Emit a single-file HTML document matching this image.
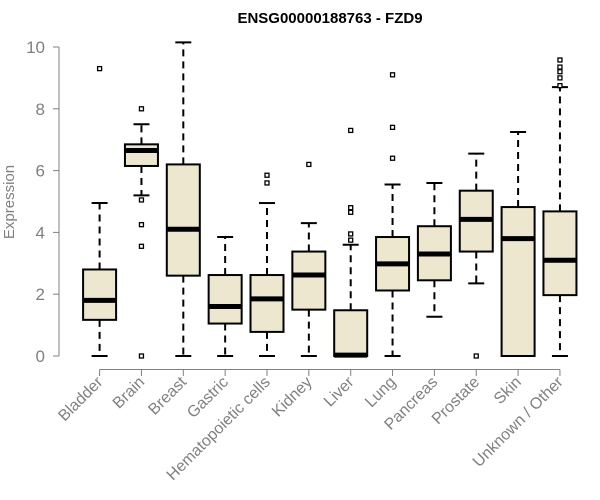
<!DOCTYPE html>
<html><head><meta charset="utf-8"><style>body{margin:0;background:#fff}svg{display:block;font-family:"Liberation Sans",Arial,sans-serif}</style></head>
<body>
<svg id="c" width="600" height="500">
<text x="330" y="23" text-anchor="middle" font-weight="bold" font-size="15">ENSG00000188763 - FZD9</text>
<text transform="translate(14,202) rotate(-90)" text-anchor="middle" font-size="15" fill="#808080">Expression</text>
</svg>
<script>
const categories=["Bladder","Brain","Breast","Gastric","Hematopoietic cells","Kidney","Liver","Lung","Pancreas","Prostate","Skin","Unknown / Other"];
const whiskLow=[0,5.2,0,0,0,0,0,0,1.27,2.35,0,0];
const q1=[1.17,6.15,2.6,1.05,0.78,1.5,0,2.12,2.45,3.38,0,1.97];
const medians=[1.8,6.65,4.1,1.6,1.85,2.62,0.03,2.98,3.3,4.42,3.8,3.1];
const q3=[2.8,6.85,6.2,2.62,2.62,3.38,1.48,3.85,4.2,5.35,4.82,4.68];
const whiskHigh=[4.95,7.5,10.15,3.85,4.95,4.3,3.6,5.55,5.6,6.55,7.25,8.7];
const outliers=[[9.3],[8.0,5.05,4.25,3.55,0],[],[],[5.6,5.85],[6.2],[3.75,3.95,4.65,4.8,7.3],[6.4,7.4,9.1],[],[0],[],[8.75,9.0,9.2,9.35,9.58]];
const yTicks=[0,2,4,6,8,10];
const NS="http://www.w3.org/2000/svg",svg=document.getElementById('c');
const y=v=>356-30.9*v, x=i=>99.6+41.85*i;
function mk(t,a,p){const e=document.createElementNS(NS,t);for(const k in a)e.setAttribute(k,a[k]);(p||svg).appendChild(e);return e;}
let e=mk('line',{x1:59,x2:59,y1:y(0),y2:y(10),stroke:'#808080'});


yTicks.forEach(t=>{mk('line',{x1:53,x2:59,y1:y(t),y2:y(t),stroke:'#808080'});
const l=mk('text',{x:45,y:y(t)+6,'text-anchor':'end','font-size':17,fill:'#808080'});l.textContent=t;

});
e=mk('line',{x1:x(0),x2:x(11),y1:369.5,y2:369.5,stroke:'#808080'});


const hw=16.5,cw=8;
categories.forEach((c,i)=>{const cx=x(i);
mk('line',{x1:cx,x2:cx,y1:369.5,y2:376,stroke:'#808080'});
const l=mk('text',{transform:`translate(${cx+4},383) rotate(-45)`,'text-anchor':'end','font-size':16,fill:'#808080'});l.textContent=c;


const g=mk('g',{});


const d={stroke:'#000','stroke-width':2,'stroke-dasharray':'7,5'};
mk('line',Object.assign({x1:cx,x2:cx,y1:y(q3[i]),y2:y(whiskHigh[i])},d),g);
mk('line',Object.assign({x1:cx,x2:cx,y1:y(q1[i]),y2:y(whiskLow[i])},d),g);
mk('line',{x1:cx-cw,x2:cx+cw,y1:y(whiskHigh[i]),y2:y(whiskHigh[i]),stroke:'#000','stroke-width':2},g);
mk('line',{x1:cx-cw,x2:cx+cw,y1:y(whiskLow[i]),y2:y(whiskLow[i]),stroke:'#000','stroke-width':2},g);
mk('rect',{x:cx-hw,y:y(q3[i]),width:2*hw,height:y(q1[i])-y(q3[i]),fill:'#ede7cf',stroke:'#000','stroke-width':2},g);
mk('line',{x1:cx-hw,x2:cx+hw,y1:y(medians[i]),y2:y(medians[i]),stroke:'#000','stroke-width':5},g);
outliers[i].forEach(o=>{const p=mk('rect',{x:cx-2,y:y(o)-2,width:4,height:4,fill:'#fff',stroke:'#000','stroke-width':1.3},g);

});
});
</script>
</body></html>
